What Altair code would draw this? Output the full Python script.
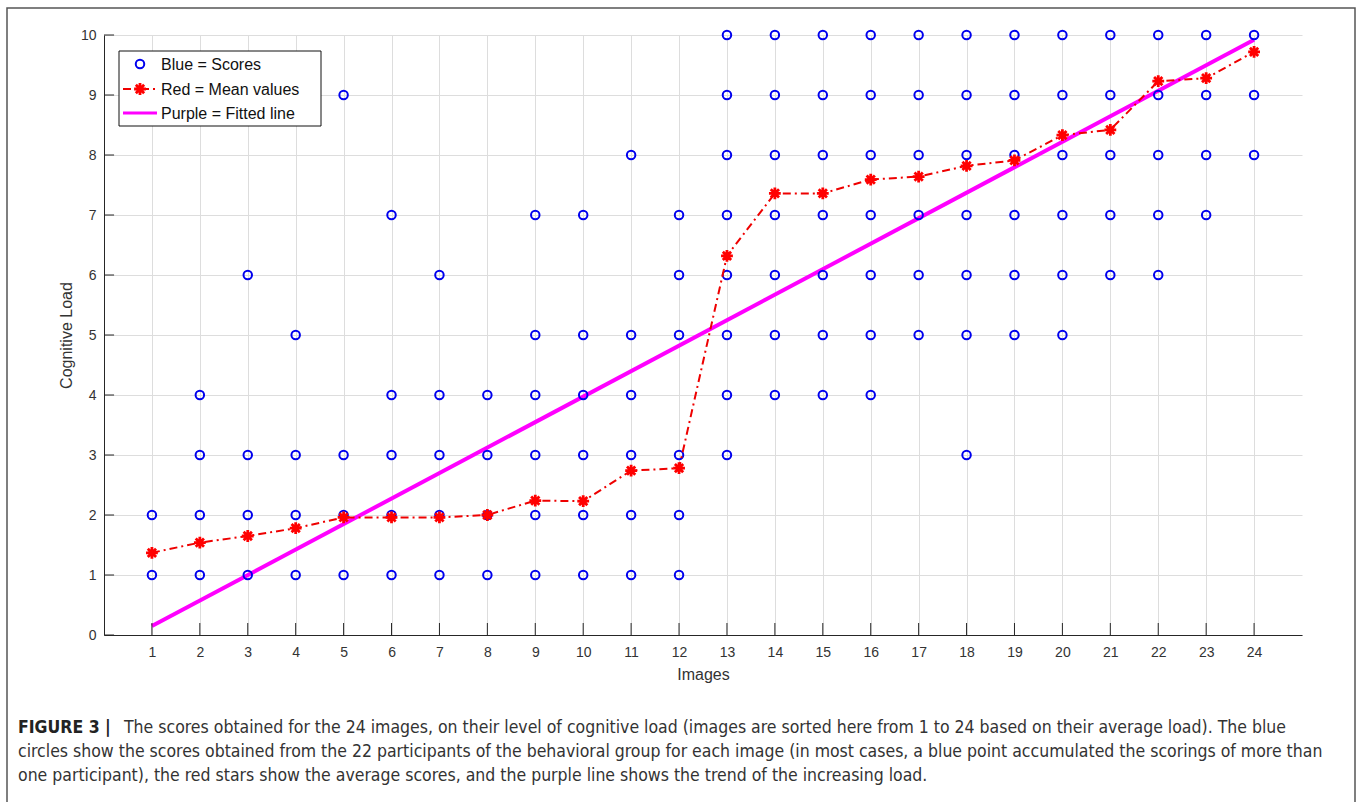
import altair as alt
import pandas as pd

# ---------------- data ----------------
images = list(range(1, 25))
scores = [
    [1, 2], [1, 2, 3, 4], [1, 2, 3, 6], [1, 2, 3, 5], [1, 2, 3, 9],
    [1, 2, 3, 4, 7], [1, 2, 3, 4, 6], [1, 2, 3, 4],
    [1, 2, 3, 4, 5, 7], [1, 2, 3, 4, 5, 7], [1, 2, 3, 4, 5, 8], [1, 2, 3, 5, 6, 7],
    [3, 4, 5, 6, 7, 8, 9, 10], [4, 5, 6, 7, 8, 9, 10], [4, 5, 6, 7, 8, 9, 10],
    [4, 5, 6, 7, 8, 9, 10], [5, 6, 7, 8, 9, 10], [3, 5, 6, 7, 8, 9, 10],
    [5, 6, 7, 8, 9, 10], [5, 6, 7, 8, 9, 10], [6, 7, 8, 9, 10], [6, 7, 8, 9, 10],
    [7, 8, 9, 10], [8, 9, 10],
]
means = [1.37, 1.54, 1.65, 1.78, 1.96, 1.96, 1.96, 2.0, 2.24, 2.23, 2.74, 2.78,
         6.32, 7.36, 7.36, 7.59, 7.64, 7.82, 7.91, 8.33, 8.42, 9.23, 9.28, 9.72]
fit_x = [1, 24]
fit_y = [0.15, 9.92]
y_ticks = list(range(0, 11))
legend_labels = ["Blue = Scores", "Red = Mean values", "Purple = Fitted line"]
caption_bold = "FIGURE 3 |"
caption_lines = [
    "The scores obtained for the 24 images, on their level of cognitive load (images are sorted here from 1 to 24 based on their average load). The blue",
    "circles show the scores obtained from the 22 participants of the behavioral group for each image (in most cases, a blue point accumulated the scorings of more than",
    "one participant), the red stars show the average scores, and the purple line shows the trend of the increasing load.",
]

df_scores = pd.DataFrame([{"image": i, "value": s} for i, ss in zip(images, scores) for s in ss])
df_mean = pd.DataFrame({"image": images, "value": means})
df_fit = pd.DataFrame({"image": fit_x, "value": fit_y})
df_xt = pd.DataFrame({"image": images, "value": [0] * len(images), "value2": [0.2] * len(images)})
df_yt = pd.DataFrame({"image": [0] * len(y_ticks), "image2": [0.21] * len(y_ticks), "value": y_ticks})
one = pd.DataFrame({"k": [0]})

# ---------------- styling ----------------
W, H = 1198, 600
AX_FONT = "Liberation Sans, Arial, Helvetica, sans-serif"
CAP_FONT = "DejaVu Sans Condensed, Liberation Sans Narrow, sans-serif"
TXT = "#333333"

xscale = alt.Scale(domain=[0, 25], nice=False, zero=False)
yscale = alt.Scale(domain=[0, 10], nice=False)
x_axis = alt.Axis(values=images, title="Images", grid=True, gridColor="#dddddd", gridWidth=1,
                  ticks=False, tickSize=0, domainColor="#262626", domainWidth=1,
                  labelFont=AX_FONT, labelFontSize=14, labelColor=TXT, labelPadding=10,
                  labelFlush=False, titleFont=AX_FONT, titleFontSize=16, titleFontWeight="normal",
                  titleColor=TXT, titlePadding=7)
y_axis = alt.Axis(values=y_ticks, title="Cognitive Load", grid=True, gridColor="#dddddd", gridWidth=1,
                  ticks=False, tickSize=0, domainColor="#262626", domainWidth=1,
                  labelFont=AX_FONT, labelFontSize=14, labelColor=TXT, labelPadding=8,
                  labelFlush=False, titleFont=AX_FONT, titleFontSize=16, titleFontWeight="normal",
                  titleColor=TXT, titlePadding=6)

X = alt.X("image:Q", scale=xscale, axis=x_axis)
Y = alt.Y("value:Q", scale=yscale, axis=y_axis)

STAR = "M-1,0L1,0M0,-1L0,1M-0.7,-0.7L0.7,0.7M-0.7,0.7L0.7,-0.7"

fit = alt.Chart(df_fit).mark_line(color="#ff00ff", strokeWidth=4).encode(x=X, y=Y)
pts = alt.Chart(df_scores).mark_point(shape="circle", size=72, filled=False, color="#0000ee",
                                      strokeWidth=2, opacity=1).encode(x=X, y=Y)
mean_line = alt.Chart(df_mean).mark_line(color="#ee0000", strokeWidth=2,
                                         strokeDash=[8, 4, 2, 4]).encode(x=X, y=Y)
mean_pts = alt.Chart(df_mean).mark_point(shape=STAR, size=140, filled=False, color="#ff0000",
                                         strokeWidth=2.8, opacity=1).encode(x=X, y=Y)

xticks = alt.Chart(df_xt).mark_rule(color="#262626", strokeWidth=1).encode(
    x=X, y=Y, y2="value2:Q")
yticks = alt.Chart(df_yt).mark_rule(color="#262626", strokeWidth=1).encode(
    x=X, x2="image2:Q", y=Y)

# ---------------- legend (drawn by hand) ----------------
leg_box = alt.Chart(one).mark_rect(fill="white", stroke="#111111", strokeWidth=1).encode(
    x=alt.value(15), x2=alt.value(217), y=alt.value(16), y2=alt.value(91))
leg_circle = alt.Chart(one).mark_point(shape="circle", size=72, filled=False, color="#0000ee",
                                       strokeWidth=2, opacity=1).encode(
    x=alt.value(36), y=alt.value(29))
leg_red = alt.Chart(one).mark_rule(color="#ee0000", strokeWidth=2, strokeDash=[8, 4, 2, 4]).encode(
    x=alt.value(19), x2=alt.value(53), y=alt.value(54))
leg_star = alt.Chart(one).mark_point(shape=STAR, size=140, filled=False, color="#ff0000",
                                     strokeWidth=2.8, opacity=1).encode(
    x=alt.value(36), y=alt.value(54))
leg_mag = alt.Chart(one).mark_rule(color="#ff00ff", strokeWidth=3).encode(
    x=alt.value(19), x2=alt.value(53), y=alt.value(78))
leg_texts = [
    alt.Chart(pd.DataFrame({"t": [lab]})).mark_text(
        align="left", baseline="middle", font=AX_FONT, fontSize=16, color="#111111").encode(
        text="t:N", x=alt.value(57), y=alt.value(yy))
    for lab, yy in zip(legend_labels, [30, 55, 79])
]

# ---------------- frame + caption ----------------
frame = alt.Chart(one).mark_rect(filled=False, stroke="#555555", strokeWidth=1.5).encode(
    x=alt.value(-97), x2=alt.value(1251), y=alt.value(-27), y2=alt.value(790))
cap_b = alt.Chart(pd.DataFrame({"t": [caption_bold]})).mark_text(
    align="left", baseline="middle", font=CAP_FONT, fontSize=17.5, fontWeight="bold", color="#222222").encode(
    text="t:N", x=alt.value(-86), y=alt.value(693))
cap_l = [
    alt.Chart(pd.DataFrame({"t": [line]})).mark_text(
        align="left", baseline="middle", font=CAP_FONT, fontSize=17.5, color="#333333").encode(
        text="t:N", x=alt.value(xx), y=alt.value(yy))
    for line, xx, yy in zip(caption_lines, [20, -86, -86], [693, 717, 741])
]

chart = alt.layer(
    fit, pts, mean_line, mean_pts, xticks, yticks,
    leg_box, leg_circle, leg_red, leg_star, leg_mag, *leg_texts,
    frame, cap_b, *cap_l,
).properties(
    width=W, height=H,
    padding={"left": 104, "top": 35, "right": 55, "bottom": 167},
    autosize=alt.AutoSizeParams(type="none"),
    background="white",
).configure_view(stroke=None)

chart.save("out.html", embed_options={"renderer": "svg", "actions": False})
